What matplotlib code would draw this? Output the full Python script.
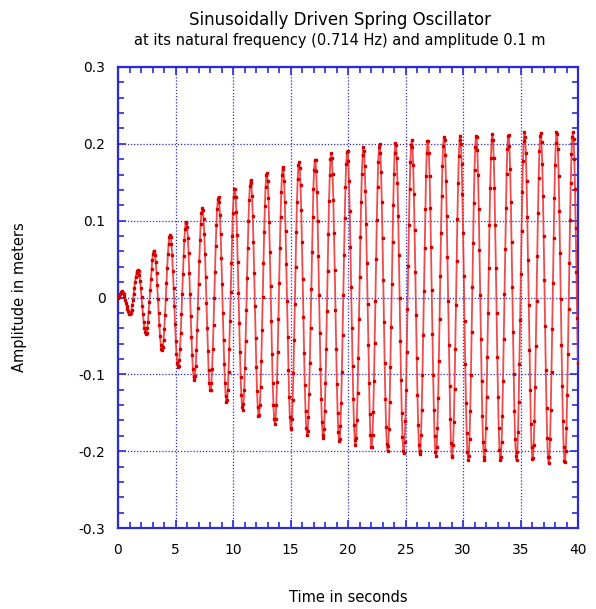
import numpy as np
import matplotlib
matplotlib.use("Agg")
import matplotlib.pyplot as plt
from matplotlib.ticker import MultipleLocator

# Extrema of the oscillation (time in s, amplitude in m)
extrema_t = [0.0, 0.33, 1.03, 1.73, 2.43, 3.13, 3.83, 4.53, 5.23, 5.93, 6.63,
             7.33, 8.03, 8.73, 9.44, 10.14, 10.84, 11.54, 12.24, 12.94, 13.64,
             14.34, 15.04, 15.74, 16.44, 17.14, 17.84, 18.54, 19.24, 19.94,
             20.64, 21.34, 22.04, 22.74, 23.44, 24.14, 24.84, 25.54, 26.24,
             26.94, 27.64, 28.35, 29.05, 29.75, 30.45, 31.15, 31.85, 32.55,
             33.25, 33.95, 34.65, 35.35, 36.05, 36.75, 37.45, 38.15, 38.85,
             39.55, 40.25]
extrema_x = [0.0, 0.008, -0.022, 0.036, -0.047, 0.061, -0.069, 0.082, -0.091,
             0.099, -0.107, 0.117, -0.122, 0.131, -0.136, 0.143, -0.146,
             0.153, -0.155, 0.162, -0.165, 0.170, -0.172, 0.177, -0.179,
             0.181, -0.183, 0.188, -0.188, 0.192, -0.192, 0.196, -0.196,
             0.200, -0.200, 0.202, -0.203, 0.205, -0.204, 0.206, -0.206,
             0.210, -0.209, 0.211, -0.212, 0.212, -0.212, 0.213, -0.212,
             0.213, -0.212, 0.215, -0.212, 0.215, -0.216, 0.216, -0.216,
             0.216, -0.216]
sample_step = 0.062
x_ticks = [0, 5, 10, 15, 20, 25, 30, 35, 40]
y_ticks = [-0.3, -0.2, -0.1, 0, 0.1, 0.2, 0.3]
y_tick_labels = ["-0.3", "-0.2", "-0.1", "0", "0.1", "0.2", "0.3"]

# sampled curve: half-cosine arcs between consecutive extrema
et = np.array(extrema_t)
ex = np.array(extrema_x)
t = np.arange(0, 40 + 1e-9, sample_step)
idx = np.clip(np.searchsorted(et, t, side="right") - 1, 0, len(et) - 2)
frac = (t - et[idx]) / (et[idx + 1] - et[idx])
w = 0.5 - 0.5 * np.cos(np.pi * frac)
x = ex[idx] * (1 - w) + ex[idx + 1] * w

fig = plt.figure(figsize=(5.96, 6.09), dpi=100)
ax = fig.add_axes([118 / 596, 1 - 528 / 609, 460 / 596, 461 / 609])

blue = "#2b2bd6"
ax.plot(t, x, color="#ee2a2a", lw=1.3, alpha=0.85, zorder=3)
ax.plot(t, x, ls="none", marker="s", ms=1.5, color="#d00000", mec="#d00000",
        zorder=4)

ax.set_xlim(0, 40)
ax.set_ylim(-0.3, 0.3)
ax.set_xticks(x_ticks)
ax.set_xticklabels([str(v) for v in x_ticks])
ax.set_yticks(y_ticks)
ax.set_yticklabels(y_tick_labels)
ax.xaxis.set_minor_locator(MultipleLocator(1))
ax.yaxis.set_minor_locator(MultipleLocator(0.02))
ax.grid(True, which="major", color=blue, ls=(0, (1, 1.5)), lw=0.9)

for s in ax.spines.values():
    s.set_color(blue)
    s.set_linewidth(1.6)
ax.tick_params(which="both", direction="in", color=blue, top=True, right=True,
               labelsize=10, labelcolor="black")
ax.tick_params(which="major", length=6, width=1.2)
ax.tick_params(which="minor", length=4, width=1.2)
ax.tick_params(axis="x", pad=11)
ax.tick_params(axis="y", pad=9)

fig.text(0.57, 1 - 20 / 609, "Sinusoidally Driven Spring Oscillator",
         ha="center", va="center", fontsize=12, family="DejaVu Sans")
fig.text(0.57, 1 - 40 / 609,
         "at its natural frequency (0.714 Hz) and amplitude 0.1 m",
         ha="center", va="center", fontsize=10.5, family="DejaVu Sans")
fig.text(20 / 596, 1 - 297 / 609, "Amplitude in meters", rotation=90,
         ha="center", va="center", fontsize=10.5)
fig.text(348 / 596, 1 - 598 / 609, "Time in seconds", ha="center",
         va="center", fontsize=10.5)

fig.savefig("out.png", dpi=100)
